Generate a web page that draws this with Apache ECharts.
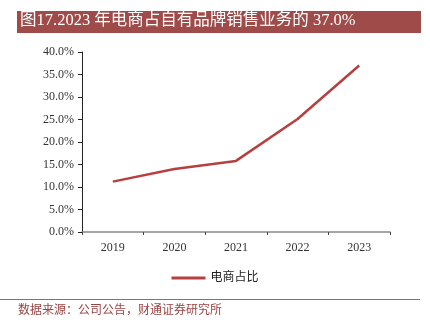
<!DOCTYPE html>
<html><head><meta charset="utf-8">
<script src="https://cdn.jsdelivr.net/npm/echarts@6/dist/echarts.min.js"></script>
<style>html,body{margin:0;padding:0;background:#fff}#c{width:430px;height:324px}</style>
</head><body><div id="c"></div>
<script>
const titleText = '图17.2023 年电商占自有品牌销售业务的 37.0%';
const sourceText = '数据来源：公司公告，财通证券研究所';
const categories = ['2019', '2020', '2021', '2022', '2023'];
const seriesName = '电商占比';
const values = [11.2, 14.0, 15.8, 25.1, 37.0];
const yTicks = { min: 0, max: 40, interval: 5 };

const serif = '"Liberation Serif", "Noto Sans CJK SC", serif';
const chart = echarts.init(document.getElementById('c'), null, { renderer: 'canvas' });
chart.setOption({
  animation: false,
  backgroundColor: '#fff',
  graphic: [
    { type: 'rect', shape: { x: 17, y: 11, width: 404, height: 22 }, style: { fill: '#9E4B4A' } },
    { type: 'text', left: 20, top: 12, style: { text: titleText, fill: '#fff', font: '16.5px ' + serif } },
    { type: 'line', shape: { x1: 0, y1: 299.5, x2: 420, y2: 299.5 }, style: { stroke: '#B0605E', lineWidth: 1 } },
    { type: 'text', left: 18, top: 305, style: { text: sourceText, fill: '#9A4544', font: '12px ' + serif } }
  ],
  grid: { left: 82, right: 40, top: 52, bottom: 92, containLabel: false },
  legend: {
    data: [seriesName], bottom: 35, left: 'center',
    itemWidth: 34, itemHeight: 3, itemGap: 6,
    icon: 'rect',
    textStyle: { fontFamily: serif, fontSize: 12, color: '#222' }
  },
  xAxis: {
    type: 'category', data: categories, boundaryGap: true,
    axisLine: { lineStyle: { color: '#888', width: 1.5 } },
    axisTick: { show: true, length: 3, inside: false, lineStyle: { color: '#444' } },
    axisLabel: { fontFamily: serif, fontSize: 12, color: '#333', margin: 10 }
  },
  yAxis: {
    type: 'value', min: yTicks.min, max: yTicks.max, interval: yTicks.interval,
    axisLine: { show: true, lineStyle: { color: '#222', width: 1 } },
    axisTick: { show: true, length: 4, lineStyle: { color: '#222' } },
    splitLine: { show: false },
    axisLabel: { fontFamily: serif, fontSize: 12, color: '#333', margin: 8,
      formatter: v => v.toFixed(1) + '%' }
  },
  series: [{
    name: seriesName, type: 'line', data: values,
    symbol: 'none', lineStyle: { color: '#B5403F', width: 2.5 },
    itemStyle: { color: '#B5403F' }
  }]
});
</script></body></html>
